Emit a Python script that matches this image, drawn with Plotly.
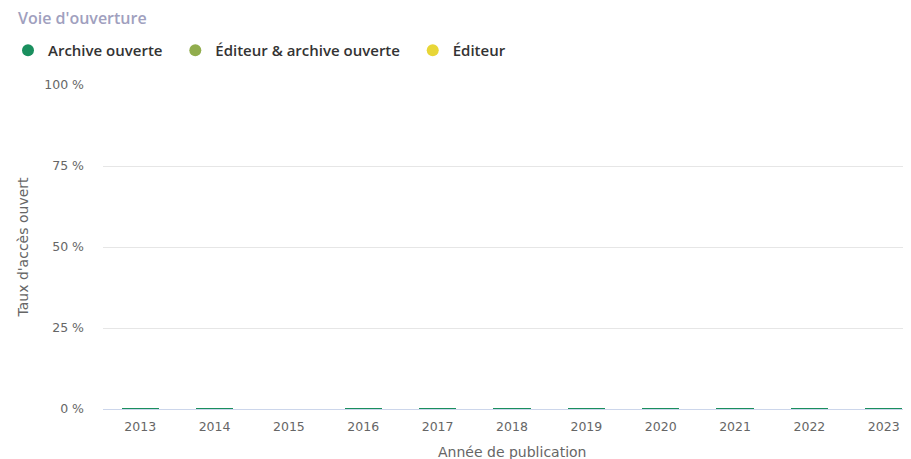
import plotly.graph_objects as go

years = ["2013", "2014", "2015", "2016", "2017", "2018", "2019", "2020", "2021", "2022", "2023"]
archive_ouverte = [0.3, 0.3, None, 0.3, 0.3, 0.3, 0.3, 0.3, 0.3, 0.3, 0.3]
editeur_archive = [0, 0, None, 0, 0, 0, 0, 0, 0, 0, 0]
editeur = [0, 0, None, 0, 0, 0, 0, 0, 0, 0, 0]

series_names = ["Archive ouverte", "Éditeur & archive ouverte", "Éditeur"]
legend_pad = ["  ", "  ", ""]
series_values = [archive_ouverte, editeur_archive, editeur]
colors = ["#1a8f5e", "#91ad4d", "#e8d637"]

fig = go.Figure()
for name, vals, col in zip(series_names, series_values, colors):
    fig.add_trace(go.Bar(
        x=years, y=vals, name=name, marker=dict(color=col, line=dict(width=0)),
        width=0.5, showlegend=False,
    ))
for name, pad, col in zip(series_names, legend_pad, colors):
    fig.add_trace(go.Scatter(
        x=[None], y=[None], mode="markers", name=name + pad,
        marker=dict(symbol="circle", size=14, color=col), showlegend=True,
    ))

W, H = 903, 451  # page body has an 8px margin
fig.update_layout(
    width=W, height=H,
    margin=dict(l=95, r=0, t=77, b=50, autoexpand=False),
    barmode="stack",
    plot_bgcolor="white", paper_bgcolor="white",
    font=dict(family="DejaVu Sans", color="#666666"),
    title=dict(text="Voie d'ouverture", x=10 / W, xref="container", xanchor="left",
               y=1 - 10 / H, yref="container", yanchor="middle", pad=dict(t=0, b=0),
               font=dict(family="Open Sans", size=16, color="#a0a0be", weight=600)),
    legend=dict(orientation="h", x=0, xref="container", xanchor="left", y=1 - 26 / H, yref="container",
                yanchor="top", font=dict(family="Open Sans", size=15, color="#333333", weight=600),
                itemsizing="constant", traceorder="normal", bgcolor="rgba(0,0,0,0)"),
    xaxis=dict(type="category", range=[-0.5, 10.366], showgrid=False, showline=True,
               linecolor="#ccd6eb", linewidth=1, ticks="", tickfont=dict(size=12.5, color="#666666"),
               ticklabelstandoff=6, automargin=False),
    yaxis=dict(range=[0, 100], tickvals=[0, 25, 50, 75, 100], ticktext=["0 %", "25 %", "50 %", "75 %", "100 %"],
               showgrid=True, gridcolor="#e6e6e6", gridwidth=1, zeroline=False, showline=False,
               ticks="", tickfont=dict(size=12.5, color="#666666"), ticklabelstandoff=18,
               automargin=False,
               title=dict(text="Taux d'accès ouvert", font=dict(size=14, color="#666666"), standoff=12)),
    annotations=[dict(text="Année de publication", x=(512 - 103) / 808, xref="paper",
                      y=-(452 - 409) / 324, yref="paper", yanchor="middle", xanchor="center",
                      showarrow=False, font=dict(size=14, color="#666666"))],
)
fig.write_html("out.html")
